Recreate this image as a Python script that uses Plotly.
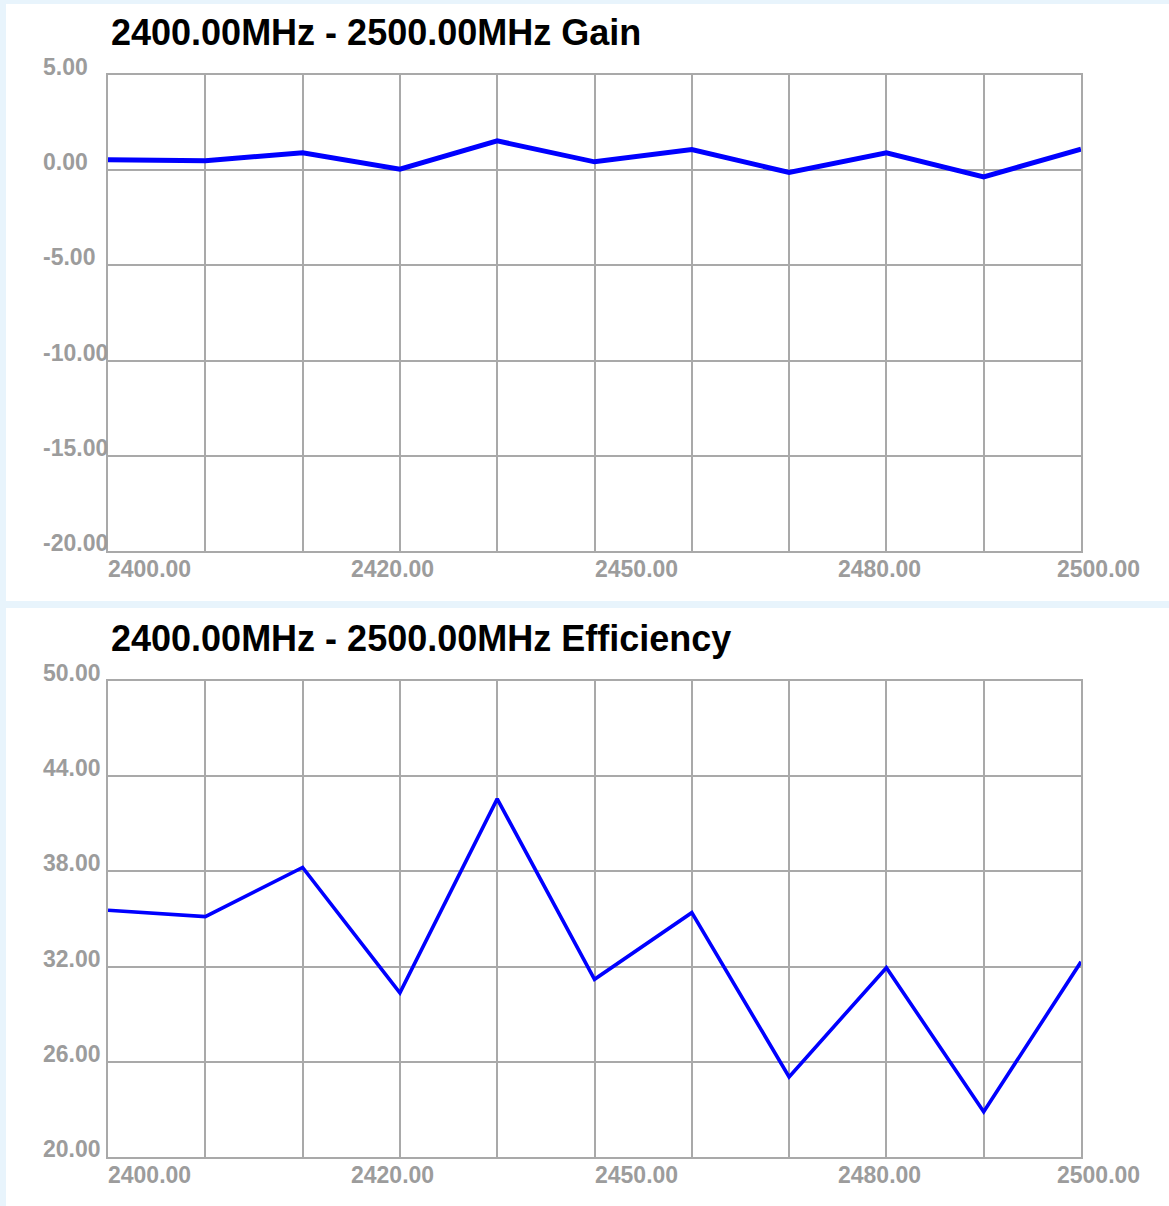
import plotly.graph_objects as go

# ---- data ----
freq = [2400, 2410, 2420, 2430, 2440, 2450, 2460, 2470, 2480, 2490, 2500]
gain = [0.55, 0.50, 0.92, 0.05, 1.54, 0.44, 1.09, -0.12, 0.91, -0.35, 1.10]
efficiency = [35.55, 35.15, 38.25, 30.35, 42.57, 31.2, 35.4, 25.05, 31.93, 22.85, 32.3]

gain_ticks = [5, 0, -5, -10, -15, -20]
eff_ticks = [50, 44, 38, 32, 26, 20]
x_label_pos = [2400, 2425, 2450, 2475, 2500]
x_label_text = ["2400.00", "2420.00", "2450.00", "2480.00", "2500.00"]
title_gain = "2400.00MHz - 2500.00MHz Gain"
title_eff = "2400.00MHz - 2500.00MHz Efficiency"

# ---- layout geometry (pixels) ----
W, H = 1169, 1206
L, R, T, B = 108, 1081, 75, 1157
pw, ph = R - L, B - T
def px(x):
    return (x - L) / pw
def py(y):
    return (B - y) / ph

top_dom = [py(551), 1.0]
bot_dom = [0.0, py(681)]

FONT = "Liberation Sans, Arial, sans-serif"
GRID = "#a9a9a9"
LBL = "#9c9c9c"

fig = go.Figure()
fig.add_trace(go.Scatter(x=freq, y=gain, mode="lines",
                         line=dict(color="#0000ff", width=5), xaxis="x", yaxis="y",
                         hoverinfo="skip", showlegend=False))
fig.add_trace(go.Scatter(x=freq, y=efficiency, mode="lines",
                         line=dict(color="#0000ff", width=3.6), xaxis="x2", yaxis="y2",
                         hoverinfo="skip", showlegend=False))

axis_common = dict(showgrid=True, gridcolor=GRID, gridwidth=2, showline=True,
                   linecolor=GRID, linewidth=2, mirror=True, zeroline=False,
                   showticklabels=False, ticks="", fixedrange=True)

fig.update_layout(
    width=W, height=H,
    margin=dict(l=L, r=W - R, t=T, b=H - B, pad=0),
    paper_bgcolor="#e8f4fc",
    plot_bgcolor="rgba(0,0,0,0)",
    showlegend=False,
    hovermode=False,
    xaxis=dict(domain=[0, 1], range=[2400, 2500], dtick=10, tick0=2400, anchor="y", **axis_common),
    yaxis=dict(domain=top_dom, range=[-20, 5], dtick=5, tick0=0, anchor="x", **axis_common),
    xaxis2=dict(domain=[0, 1], range=[2400, 2500], dtick=10, tick0=2400, anchor="y2", **axis_common),
    yaxis2=dict(domain=bot_dom, range=[20, 50], dtick=6, tick0=20, anchor="x2", **axis_common),
)

# white panels
fig.add_shape(type="rect", xref="paper", yref="paper", layer="below",
              x0=px(6), x1=px(W + 5), y0=py(601), y1=py(4),
              fillcolor="white", line=dict(width=0))
fig.add_shape(type="rect", xref="paper", yref="paper", layer="below",
              x0=px(6), x1=px(W + 5), y0=py(H + 5), y1=py(608),
              fillcolor="white", line=dict(width=0))

ann = []
titlefont = dict(family=FONT, size=36, color="black", weight="bold")
ann.append(dict(text=title_gain, xref="paper", yref="paper", x=px(109), y=py(33),
                xanchor="left", yanchor="middle", showarrow=False, font=titlefont))
ann.append(dict(text=title_eff, xref="paper", yref="paper", x=px(109), y=py(638),
                xanchor="left", yanchor="middle", showarrow=False, font=titlefont))

tickfont = dict(family=FONT, size=23, color=LBL, weight="bold")
for v in gain_ticks:
    ann.append(dict(text=f"{v:.2f}", xref="paper", yref="y", x=px(41), y=v,
                    xanchor="left", yanchor="middle", yshift=8, showarrow=False, font=tickfont))
for v in eff_ticks:
    ann.append(dict(text=f"{v:.2f}", xref="paper", yref="y2", x=px(41), y=v,
                    xanchor="left", yanchor="middle", yshift=8, showarrow=False, font=tickfont))
for xv, t in zip(x_label_pos, x_label_text):
    shift = -26 if xv == 2500 else -2
    ann.append(dict(text=t, xref="x", yref="paper", x=xv, y=py(569),
                    xanchor="left", yanchor="middle", xshift=shift, showarrow=False, font=tickfont))
    ann.append(dict(text=t, xref="x2", yref="paper", x=xv, y=py(1175),
                    xanchor="left", yanchor="middle", xshift=shift, showarrow=False, font=tickfont))

fig.update_layout(annotations=ann)
fig.write_html("out.html", config={"displayModeBar": False},
               post_script="document.body.style.margin='0';")
